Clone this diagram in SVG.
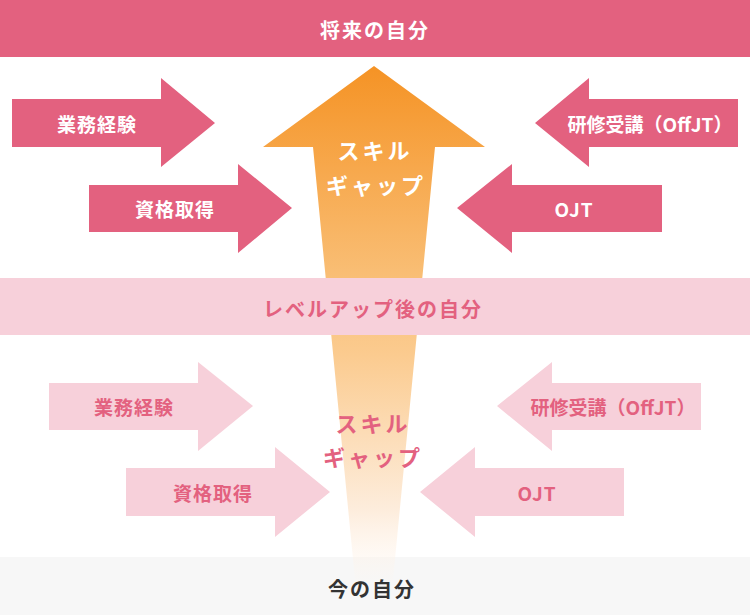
<svg xmlns="http://www.w3.org/2000/svg" width="750" height="615" viewBox="0 0 750 615">
<defs>
<linearGradient id="gap" x1="0" y1="66" x2="0" y2="590" gradientUnits="userSpaceOnUse">
<stop offset="0" stop-color="#f59325"/>
<stop offset="0.4" stop-color="#f9be75"/>
<stop offset="0.55" stop-color="#fbcb8f"/>
<stop offset="0.85" stop-color="#fdeddd"/>
<stop offset="1" stop-color="#fff6ee" stop-opacity="0"/>
</linearGradient>
</defs>
<style>
text{font-family:"Noto Sans CJK JP","Noto Sans",sans-serif;font-weight:700;text-anchor:middle;dominant-baseline:central}
.dark{fill:#e3617f}
.light{fill:#f7d0da}
.band{font-size:20px;letter-spacing:2px}
.lbl{font-size:19px;letter-spacing:1px}
.lbl2{font-size:19px;letter-spacing:0px}
.gaptxt{font-size:22px;letter-spacing:3px}
.w{fill:#fff}
.p{fill:#e3617f}
</style>
<rect width="750" height="615" fill="#fff"/>
<g id="now">
<rect x="0" y="557" width="750" height="58" fill="#f7f7f7"/>
</g>
<g id="skill-gap-arrow">
<polygon points="374,66 485,147 435,147 392,590 356,590 313,147 263,147" fill="url(#gap)"/>
</g>
<g id="future">
<rect x="0" y="0" width="750" height="57" class="dark"/>
<text x="375" y="29" class="band w">将来の自分</text>
</g>
<g id="levelup">
<rect x="0" y="278" width="750" height="57" class="light"/>
<text x="373" y="308" class="band p">レベルアップ後の自分</text>
</g>
<g id="now-label">
<text x="372" y="588" class="band" fill="#333">今の自分</text>
</g>
<g id="gap-upper">
<text x="375" y="149" class="gaptxt w">スキル</text>
<text x="376" y="184" class="gaptxt w">ギャップ</text>
</g>
<g id="gap-lower">
<text x="373" y="422" class="gaptxt p">スキル</text>
<text x="373" y="456" class="gaptxt p">ギャップ</text>
</g>
<g id="u-work">
<polygon points="12,99 161,99 161,78 215,123 161,167 161,147 12,147" class="dark"/>
<text x="97" y="123" class="lbl w">業務経験</text>
</g>
<g id="u-cert">
<polygon points="89,185 238,185 238,164 292,208 238,253 238,232 89,232" class="dark"/>
<text x="175" y="208" class="lbl w">資格取得</text>
</g>
<g id="u-offjt">
<polygon points="738,99 589,99 589,78 535,123 589,167 589,147 738,147" class="dark"/>
<text x="650" y="123" class="lbl2 w">研修受講（OffJT）</text>
</g>
<g id="u-ojt">
<polygon points="662,185 512,185 512,164 457,208 512,253 512,232 662,232" class="dark"/>
<text x="574" y="208" class="lbl w">OJT</text>
</g>
<g id="l-work">
<polygon points="49,383 198,383 198,362 253,406 198,451 198,430 49,430" class="light"/>
<text x="134" y="406" class="lbl p">業務経験</text>
</g>
<g id="l-cert">
<polygon points="126,468 275,468 275,447 330,492 275,537 275,516 126,516" class="light"/>
<text x="213" y="492" class="lbl p">資格取得</text>
</g>
<g id="l-offjt">
<polygon points="701,383 552,383 552,362 497,406 552,451 552,430 701,430" class="light"/>
<text x="613" y="406" class="lbl2 p">研修受講（OffJT）</text>
</g>
<g id="l-ojt">
<polygon points="624,468 475,468 475,447 420,492 475,537 475,516 624,516" class="light"/>
<text x="537" y="492" class="lbl p">OJT</text>
</g>
<g id="connectors"></g>
</svg>
